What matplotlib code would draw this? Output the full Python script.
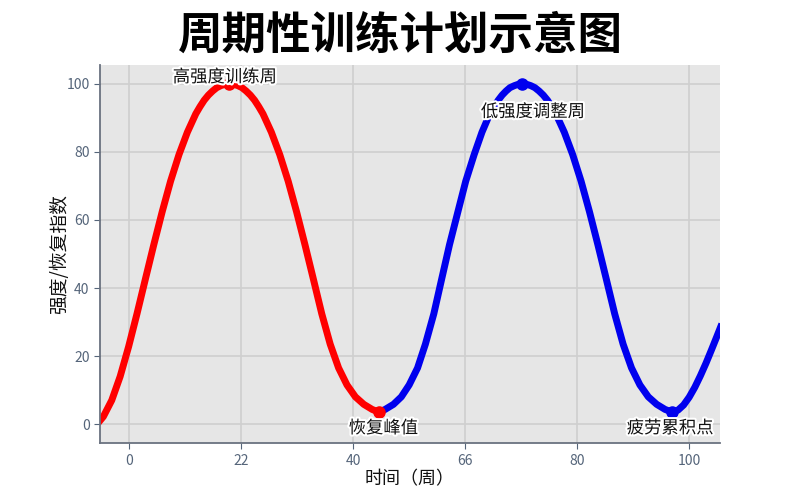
import matplotlib.pyplot as plt
import matplotlib.patheffects as pe

plt.rcParams['font.family'] = ['Noto Sans CJK SC', 'DejaVu Sans']

# 高强度段 (red)
red_x = [-5.2, -4.6, -3.1, -1.6, -0.1, 1.4, 2.9, 4.4, 5.9, 7.4, 8.9, 10.4, 11.9,
         12.65, 13.4, 14.15, 14.9, 15.65, 16.4, 17.15, 17.9,
         18.65, 19.4, 20.15, 20.9, 21.65, 22.4, 23.15, 23.9, 25.4, 26.9, 28.4, 29.9,
         31.4, 32.9, 34.4, 35.9, 37.4, 38.9, 40.4, 41.9, 43.4, 44.6]
red_y = [1.0, 2.2, 7.0, 14.0, 22.7, 32.4, 42.6, 52.7, 62.4, 71.4, 79.2, 85.8, 91.2,
         93.3, 95.2, 96.7, 97.9, 98.9, 99.5, 99.9, 100.0,
         99.9, 99.5, 98.9, 97.9, 96.7, 95.2, 93.3, 91.2, 85.8, 79.2, 71.4, 62.4,
         52.7, 42.6, 32.4, 23.5, 16.5, 11.5, 8.0, 5.8, 4.3, 3.5]

# 低强度段 (blue)
blue_x = [44.6, 45.7, 47.2, 48.6, 50.0, 51.5, 52.9, 54.4, 55.8, 57.2, 58.7, 60.1,
          61.6, 63.0, 64.4, 65.2, 65.9, 66.6, 67.3, 68.0, 68.8, 69.5, 70.2,
          70.95, 71.7, 72.45, 73.2, 73.95, 74.7, 75.45, 76.2, 77.7, 79.2, 80.7, 82.2,
          83.7, 85.2, 86.7, 88.2, 89.7, 91.2, 92.7, 94.2, 95.7, 97.0,
          98.0, 99.0, 100.0, 101.0, 102.0, 103.0, 104.0, 105.0, 105.6]
blue_y = [3.5, 4.3, 5.8, 8.0, 11.5, 16.5, 23.5, 32.4, 42.6, 52.7, 62.4, 71.4,
          79.2, 85.8, 91.2, 93.3, 95.2, 96.7, 97.9, 98.9, 99.5, 99.9, 100.0,
          99.9, 99.5, 98.9, 97.9, 96.7, 95.2, 93.3, 91.2, 85.8, 79.2, 71.4, 62.4,
          52.7, 42.6, 32.4, 23.5, 16.5, 11.5, 8.0, 5.8, 4.3, 3.5,
          4.1, 5.6, 7.9, 10.8, 14.2, 17.9, 21.9, 26.0, 28.5]

# 标注点
red_pts_x = [17.9, 44.6]
red_pts_y = [100.0, 3.5]
blue_pts_x = [70.2, 97.0]
blue_pts_y = [100.0, 3.5]

notes = ['高强度训练周', '恢复峰值', '低强度调整周', '疲劳累积点']
note_x = [17.1, 45.4, 72.1, 96.6]
note_y = [102.0, -1.2, 91.8, -1.2]

xtick_pos = [0, 20, 40, 60, 80, 100]
xtick_labels = ['0', '22', '40', '66', '80', '100']
ytick_pos = [0, 20, 40, 60, 80, 100]

fig = plt.figure(figsize=(8, 4.99), dpi=100)
ax = fig.add_axes([0.125, 0.112, 0.775, 0.758])
ax.set_facecolor('#e6e6e6')
ax.grid(True, color='#cfcfcf', linewidth=1.2)
ax.set_axisbelow(True)

ax.plot(red_x, red_y, color='#ff0000', linewidth=5, solid_joinstyle='round')
ax.plot(blue_x, blue_y, color='#0000ee', linewidth=5, solid_joinstyle='round')
ax.plot(red_pts_x, red_pts_y, 'o', color='#ff0000', markersize=8)
ax.plot(blue_pts_x, blue_pts_y, 'o', color='#0000ee', markersize=8)

for t, x, y in zip(notes, note_x, note_y):
    ax.text(x, y, t, ha='center', va='center', fontsize=12.5, color='#111111',
            path_effects=[pe.withStroke(linewidth=3, foreground='white')])

ax.set_xlim(-5.2, 105.5)
ax.set_ylim(-5.6, 105.6)
ax.set_xticks(xtick_pos)
ax.set_xticklabels(xtick_labels)
ax.set_yticks(ytick_pos)
ax.tick_params(colors='#55657a', labelsize=10, length=4)
for s in ['top', 'right']:
    ax.spines[s].set_visible(False)
for s in ['left', 'bottom']:
    ax.spines[s].set_color('#6a7280')
    ax.spines[s].set_linewidth(1.3)

ax.set_xlabel('时间（周）', fontsize=13, color='#111111', labelpad=2)
ax.set_ylabel('强度/恢复指数', fontsize=13.5, color='#111111', labelpad=-3)
fig.suptitle('周期性训练计划示意图', fontsize=32, fontweight='heavy', y=0.975)

fig.savefig('out.png', dpi=100)
